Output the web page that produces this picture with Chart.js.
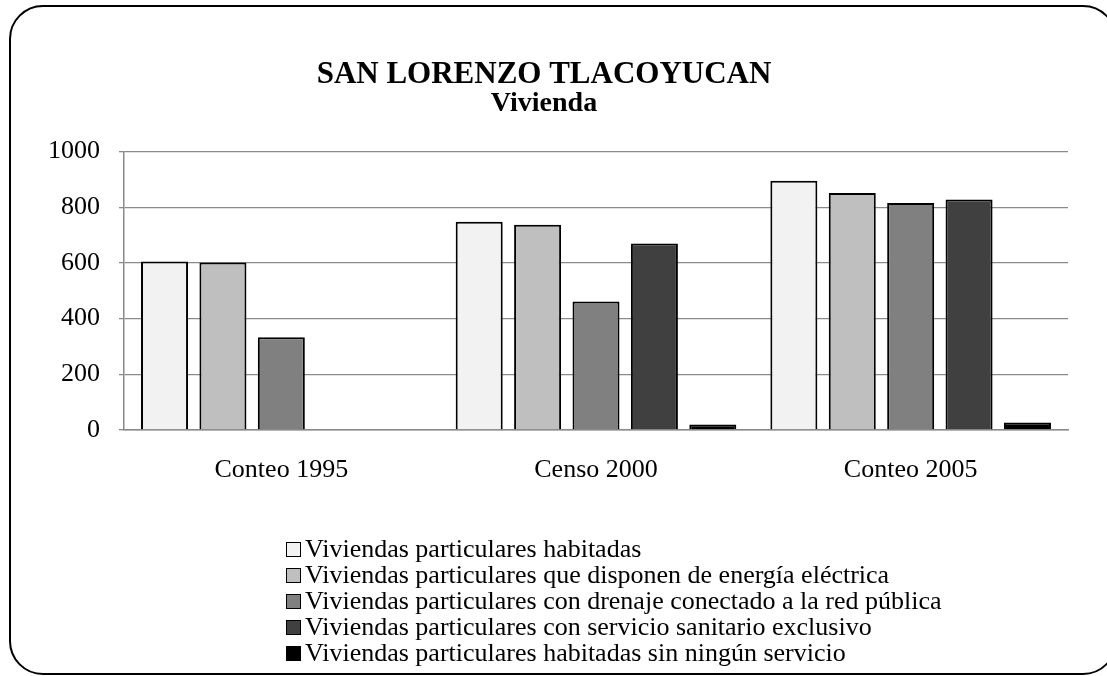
<!DOCTYPE html>
<html>
<head>
<meta charset="utf-8">
<script src="https://cdn.jsdelivr.net/npm/chart.js@4.4.1/dist/chart.umd.min.js"></script>
<style>
  html, body { margin: 0; padding: 0; background: #fff; }
  #wrap { position: relative; width: 1107px; height: 676px; overflow: hidden; }
  #frame {
    position: absolute; left: 9px; top: 5px; width: 1108px; height: 670px;
    border: 2px solid #000; border-radius: 34px; box-sizing: border-box;
  }
  canvas { position: absolute; left: 0; top: 0; }
</style>
</head>
<body>
<div id="wrap">
  <div id="frame"></div>
  <canvas id="chart" width="1107" height="676"></canvas>
</div>
<script>
const categories = ["Conteo 1995", "Censo 2000", "Conteo 2005"];
const seriesNames = [
  "Viviendas particulares habitadas",
  "Viviendas particulares que disponen de energía eléctrica",
  "Viviendas particulares con drenaje conectado a la red pública",
  "Viviendas particulares con servicio sanitario exclusivo",
  "Viviendas particulares habitadas sin ningún servicio"
];
const habitadas = [605, 748, 895];
const energia = [601, 737, 851];
const drenaje = [333, 461, 815];
const sanitario = [null, 670, 828];
const sinServicio = [null, 20, 27];
const yTicks = [0, 200, 400, 600, 800, 1000];

const colors = ["#f2f2f2", "#bfbfbf", "#808080", "#404040", "#000000"];
const FONT = "'Liberation Serif', 'Times New Roman', serif";

const seriesValues = [habitadas, energia, drenaje, sanitario, sinServicio];

// legend drawn by hand so the rows are left aligned in one column
const legendPlugin = {
  id: "columnLegend",
  afterDraw(chart) {
    const ctx = chart.ctx;
    ctx.save();
    ctx.font = "26px " + FONT;
    ctx.textBaseline = "middle";
    chart.data.datasets.forEach((ds, i) => {
      const y = 549 + i * 26;
      ctx.fillStyle = ds.backgroundColor;
      ctx.fillRect(286, y - 7, 15, 15);
      ctx.strokeStyle = "#000";
      ctx.lineWidth = 1;
      ctx.strokeRect(286.5, y - 6.5, 14, 14);
      ctx.fillStyle = "#000";
      ctx.fillText(ds.label, 305, y + 1);
    });
    ctx.restore();
  }
};

new Chart(document.getElementById("chart"), {
  type: "bar",
  data: {
    labels: categories,
    datasets: seriesNames.map((name, i) => ({
      label: name,
      data: seriesValues[i],
      backgroundColor: colors[i],
      borderColor: "#000",
      borderWidth: 2,
      categoryPercentage: 0.928,
      barPercentage: 0.805
    }))
  },
  options: {
    responsive: false,
    animation: false,
    layout: { padding: { top: 58, left: 20, right: 39, bottom: 186 } },
    plugins: {
      legend: { display: false },
      tooltip: { enabled: false },
      title: {
        display: true,
        text: "SAN LORENZO TLACOYUCAN",
        color: "#000",
        font: { family: FONT, size: 31, weight: "bold", lineHeight: 1.1 },
        padding: { top: 0, bottom: 0 }
      },
      subtitle: {
        display: true,
        text: "Vivienda",
        color: "#000",
        font: { family: FONT, size: 28, weight: "bold", lineHeight: 0.8 },
        padding: { top: 0, bottom: 37 }
      }
    },
    scales: {
      x: {
        grid: { display: false },
        border: { display: true, color: "#8a8a8a", width: 1.5 },
        ticks: { color: "#000", font: { family: FONT, size: 26 }, padding: 17 },
        afterFit(scale) { scale.height = 60; }
      },
      y: {
        min: 0,
        max: 1000,
        afterBuildTicks(scale) { scale.ticks = yTicks.map(v => ({ value: v })); },
        grid: { color: "#8a8a8a", lineWidth: 1.3, tickLength: 5 },
        border: { display: true, color: "#8a8a8a", width: 1.5 },
        ticks: {
          color: "#000",
          font: { family: FONT, size: 26 },
          padding: 19,
          callback: v => String(v)
        },
        afterFit(scale) { scale.width = 104; }
      }
    }
  },
  plugins: [legendPlugin]
});
</script>
</body>
</html>
